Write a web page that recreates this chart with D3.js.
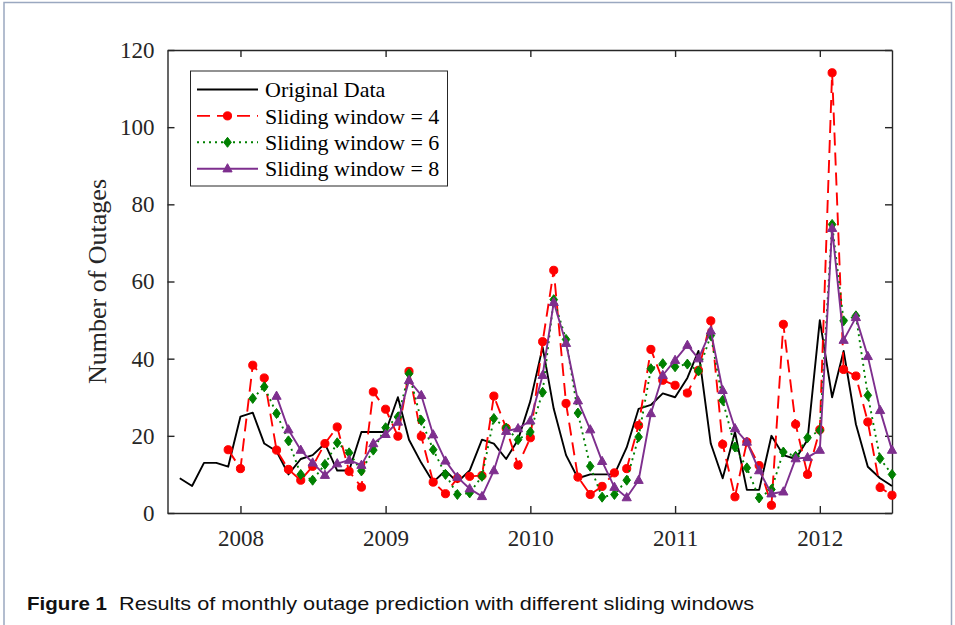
<!DOCTYPE html>
<html>
<head>
<meta charset="utf-8">
<script src="https://cdn.jsdelivr.net/npm/d3@7"></script>
<style>
  html, body { margin: 0; padding: 0; background: #ffffff; }
  svg { display: block; }
</style>
</head>
<body>
<svg id="chart" width="955" height="625"></svg>
<script>
// ---------------- data ----------------
const firstMonth = "2007-08";   // first month of the original series
const lastMonth  = "2012-07";   // last month of the original series
const yearTicks  = [2008, 2009, 2010, 2011, 2012];
const yTicks     = [0, 20, 40, 60, 80, 100, 120];

// Original monthly outages, Aug 2007 – Jul 2012
const original = [
  9, 7, 13, 13, 12,
  25, 26, 18, 16, 10, 14, 15, 18, 11, 11, 21, 21,
  21, 30, 19, 13, 8, 11, 8, 11, 19, 18, 14, 19,
  29, 43, 27, 15, 9, 10, 10, 10, 17, 27, 28, 31,
  30, 35, 42, 18, 9, 21, 6, 6, 20, 15, 14, 19,
  50, 30, 42, 23, 12, 9, 7
];
// Sliding window = 4, predictions from Dec 2007
const win4 = [
  16.4,
  11.5, 38.3, 35, 16.3, 11.3, 8.5, 12.1, 18, 22.3, 10.8, 6.7, 31.4,
  26.9, 19.9, 36.7, 19.9, 8, 5, 9, 9.5, 9.7, 30.3, 22, 12.4,
  19.5, 44.4, 62.9, 28.4, 9.3, 4.8, 6.9, 10.4, 11.5, 22.7, 42.4, 34.4,
  33.1, 31.1, 37, 49.8, 17.8, 4.2, 18.4, 12.3, 2, 48.9, 23, 10,
  21.6, 114.1, 37.2, 35.5, 23.6, 6.6, 4.6
];
// Sliding window = 6, predictions from Feb 2008
const win6 = [
  29.7, 32.7, 25.8, 18.7, 10, 8.5, 12.6, 18.2, 15.6, 10.9, 16.3,
  22.1, 24.9, 36.1, 24, 16.4, 10, 4.8, 5.2, 9.5, 24.5, 22, 19,
  21, 31.3, 55.3, 45, 25.9, 12.1, 4.1, 4.8, 8.5, 19.7, 37.4, 38.7,
  37.9, 38.6, 36.8, 46, 29.2, 17.1, 11.7, 3.9, 6.1, 15.8, 14.7, 19.5,
  21.4, 74.8, 49.8, 51.1, 30.5, 14.1, 10
];
// Sliding window = 8, predictions from Apr 2008
const win8 = [
  30.3, 21.6, 16.3, 13, 9.8, 12.8, 13.7, 12.4, 18,
  20.4, 23.6, 34.4, 30.5, 20.3, 13.5, 9.3, 6.3, 4.3, 11, 21.2, 21.9,
  23.9, 35.7, 54.6, 44, 29.1, 21.6, 13.4, 6.7, 4, 8.5, 25.8, 35.7,
  39.6, 43.5, 40, 47.2, 31.8, 21.9, 18.4, 11, 5, 5.5, 14.1, 14.4,
  16.3, 73.8, 44.8, 50.7, 40.6, 26.6, 16.3
];
const seriesNames = ["Original Data", "Sliding window = 4", "Sliding window = 6", "Sliding window = 8"];

// ---------------- build ----------------
const parseM = d3.utcParse("%Y-%m");
const months = d3.utcMonth.range(parseM(firstMonth), d3.utcMonth.offset(parseM(lastMonth), 1));

function seriesFrom(values) {
  const offset = months.length - values.length;
  return values.map((v, i) => ({ date: months[i + offset], value: v }));
}

const svg = d3.select("#chart");
const W = 955, H = 625;
const plot = { left: 167.5, right: 892, top: 50, bottom: 513 };
const axisColor = "#262626";
const serif = "'Liberation Serif', 'Times New Roman', serif";

// page frame
svg.append("path")
  .attr("d", `M4,${H} V2.5 H951.5 V${H}`)
  .attr("fill", "none").attr("stroke", "#9aa8c0").attr("stroke-width", 1.5);

const x = d3.scaleUtc()
  .domain([d3.utcMonth.offset(parseM(firstMonth), -1), parseM(lastMonth)])
  .range([plot.left, plot.right]);
const y = d3.scaleLinear().domain([0, 120]).range([plot.bottom, plot.top]);

// axes
const tickDates = yearTicks.map(yr => new Date(Date.UTC(yr, 0, 1)));
const xAxis = svg.append("g").attr("transform", `translate(0,${plot.bottom})`)
  .call(d3.axisBottom(x).tickValues(tickDates).tickFormat(d3.utcFormat("%Y")).tickSizeInner(-7).tickSizeOuter(0).tickPadding(17));
const xTop = svg.append("g").attr("transform", `translate(0,${plot.top})`)
  .call(d3.axisTop(x).tickValues(tickDates).tickFormat("").tickSizeInner(-7).tickSizeOuter(0));
const yAxis = svg.append("g").attr("transform", `translate(${plot.left},0)`)
  .call(d3.axisLeft(y).tickValues(yTicks).tickSizeInner(-7).tickSizeOuter(0).tickPadding(13));
const yRight = svg.append("g").attr("transform", `translate(${plot.right},0)`)
  .call(d3.axisRight(y).tickValues(yTicks).tickFormat("").tickSizeInner(-7).tickSizeOuter(0));

[xAxis, xTop, yAxis, yRight].forEach(g => {
  g.selectAll(".domain").attr("stroke", axisColor).attr("stroke-width", 1.4);
  g.selectAll(".tick line").attr("stroke", axisColor).attr("stroke-width", 1.4);
  g.selectAll("text").attr("fill", axisColor).style("font-family", serif).style("font-size", "23px");
});

// y label
svg.append("text")
  .attr("transform", `translate(106,${(plot.top + plot.bottom) / 2}) rotate(-90)`)
  .attr("text-anchor", "middle")
  .attr("fill", axisColor)
  .style("font-family", serif).style("font-size", "26px")
  .text("Number of Outages");

// series
const line = d3.line().x(d => x(d.date)).y(d => y(d.value));
const styles = [
  { data: seriesFrom(original), color: "#000000", dash: null, marker: null },
  { data: seriesFrom(win4), color: "#ff0000", dash: "13,7", marker: "circle" },
  { data: seriesFrom(win6), color: "#008000", dash: "2,4", marker: "diamond" },
  { data: seriesFrom(win8), color: "#7e2f8e", dash: null, marker: "triangle" }
];

function markerPath(type) {
  if (type === "circle") return d3.symbol(d3.symbolCircle, 52)();
  if (type === "diamond") return "M0,-5 L3.8,0 L0,5 L-3.8,0 Z";
  if (type === "triangle") return "M0,-5 L4.6,3.2 L-4.6,3.2 Z";
  return "";
}

styles.forEach(s => {
  svg.append("path").datum(s.data)
    .attr("d", line)
    .attr("fill", "none")
    .attr("stroke", s.color)
    .attr("stroke-width", 1.9)
    .attr("stroke-linejoin", "round")
    .attr("stroke-dasharray", s.dash);
  if (s.marker) {
    svg.append("g").selectAll("path").data(s.data).join("path")
      .attr("transform", d => `translate(${x(d.date)},${y(d.value)})`)
      .attr("d", markerPath(s.marker))
      .attr("fill", s.color)
      .attr("stroke", s.color)
      .attr("stroke-width", 1);
  }
});

// legend
const lg = svg.append("g");
lg.append("rect").attr("x", 190.5).attr("y", 71).attr("width", 257).attr("height", 115)
  .attr("fill", "#ffffff").attr("stroke", axisColor).attr("stroke-width", 1);
styles.forEach((s, i) => {
  const cy = 89.5 + i * 26.4;
  lg.append("line").attr("x1", 197).attr("x2", 258).attr("y1", cy).attr("y2", cy)
    .attr("stroke", s.color).attr("stroke-width", 1.9).attr("stroke-dasharray", s.dash);
  if (s.marker) {
    lg.append("path").attr("transform", `translate(227.5,${cy})`).attr("d", markerPath(s.marker))
      .attr("fill", s.color).attr("stroke", s.color).attr("stroke-width", 1);
  }
  lg.append("text").attr("x", 265).attr("y", cy).attr("dy", "0.35em")
    .attr("fill", "#000").style("font-family", serif).style("font-size", "22px")
    .text(seriesNames[i]);
});

// caption
const cap = svg.append("text").attr("y", 610).style("font-family", "'Liberation Sans', Arial, sans-serif").style("font-size", "19px").attr("fill", "#111");
cap.append("tspan").attr("x", 27).attr("font-weight", "bold").attr("textLength", 80).attr("lengthAdjust", "spacingAndGlyphs").text("Figure 1");
cap.append("tspan").attr("x", 119).attr("textLength", 635).attr("lengthAdjust", "spacingAndGlyphs").text("Results of monthly outage prediction with different sliding windows");
</script>
</body>
</html>
